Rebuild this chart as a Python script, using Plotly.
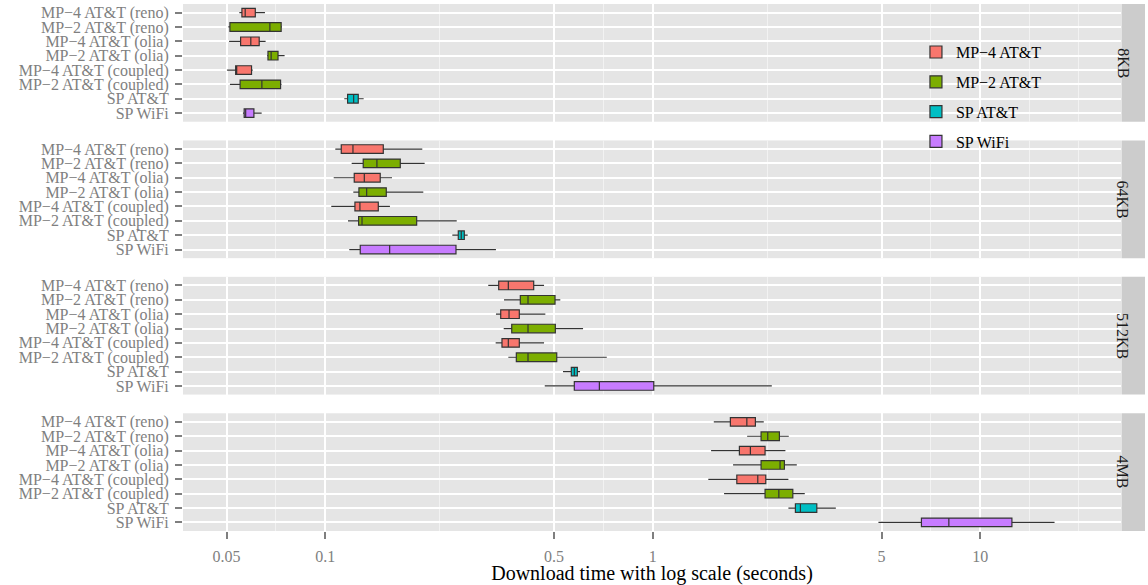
import plotly.graph_objects as go
from plotly.subplots import make_subplots

facets = ["8KB", "64KB", "512KB", "4MB"]
categories = ["MP−4 AT&T (reno)", "MP−2 AT&T (reno)", "MP−4 AT&T (olia)",
              "MP−2 AT&T (olia)", "MP−4 AT&T (coupled)", "MP−2 AT&T (coupled)",
              "SP AT&T", "SP WiFi"]
groups = ["MP−4 AT&T", "MP−2 AT&T", "MP−4 AT&T", "MP−2 AT&T",
          "MP−4 AT&T", "MP−2 AT&T", "SP AT&T", "SP WiFi"]
legend_order = ["MP−4 AT&T", "MP−2 AT&T", "SP AT&T", "SP WiFi"]
group_colors = ["#F8766D", "#7CAE00", "#00BFC4", "#C77CFF"]

x_tickvals = [0.05, 0.1, 0.5, 1, 5, 10]
x_ticktext = ["0.05", "0.1", "0.5", "1", "5", "10"]
x_minorvals = [0.0707, 0.2236, 0.7071, 2.236, 7.071, 14.14, 20]

# 8KB
lo_8kb = [0.0547, 0.0506, 0.0509, 0.0665, 0.0502, 0.0512, 0.1144, 0.0561]
q1_8kb = [0.0557, 0.0512, 0.0552, 0.0669, 0.0533, 0.0550, 0.1171, 0.0566]
med_8kb = [0.0570, 0.0678, 0.0593, 0.0684, 0.0537, 0.0641, 0.1222, 0.0572]
q3_8kb = [0.0612, 0.0734, 0.0629, 0.0718, 0.0596, 0.0731, 0.1262, 0.0606]
hi_8kb = [0.0655, 0.0738, 0.0658, 0.0752, 0.0601, 0.0736, 0.1311, 0.0640]
# 64KB
lo_64kb = [0.1074, 0.1205, 0.1062, 0.1219, 0.1044, 0.1174, 0.2445, 0.1185]
q1_64kb = [0.1120, 0.1307, 0.1227, 0.1268, 0.1233, 0.1265, 0.2550, 0.1280]
med_64kb = [0.1216, 0.1439, 0.1317, 0.1339, 0.1277, 0.1296, 0.2604, 0.1574]
q3_64kb = [0.1505, 0.1696, 0.1473, 0.1537, 0.1453, 0.1903, 0.2660, 0.2509]
hi_64kb = [0.1980, 0.2013, 0.1600, 0.1994, 0.1577, 0.2522, 0.2724, 0.3323]
# 512KB
lo_512kb = [0.3148, 0.3517, 0.3323, 0.3509, 0.3316, 0.3625, 0.5325, 0.4683]
q1_512kb = [0.3388, 0.3944, 0.3436, 0.3713, 0.3467, 0.3835, 0.5645, 0.5765]
med_512kb = [0.3625, 0.4163, 0.3643, 0.4163, 0.3625, 0.4163, 0.5765, 0.6875]
q3_512kb = [0.4333, 0.5034, 0.3916, 0.5045, 0.3916, 0.5095, 0.5889, 1.0078]
hi_512kb = [0.4660, 0.5225, 0.4703, 0.6130, 0.4660, 0.7243, 0.6002, 2.311]
# 4MB
lo_4mb = [1.537, 1.943, 1.508, 1.760, 1.479, 1.652, 2.597, 4.891]
q1_4mb = [1.727, 2.143, 1.840, 2.143, 1.807, 2.204, 2.728, 6.617]
med_4mb = [1.939, 2.246, 1.988, 2.449, 2.094, 2.428, 2.826, 8.023]
q3_4mb = [2.059, 2.438, 2.204, 2.525, 2.215, 2.679, 3.171, 12.50]
hi_4mb = [2.184, 2.604, 2.543, 2.755, 2.597, 2.914, 3.625, 16.87]

facet_stats = [
    (lo_8kb, q1_8kb, med_8kb, q3_8kb, hi_8kb),
    (lo_64kb, q1_64kb, med_64kb, q3_64kb, hi_64kb),
    (lo_512kb, q1_512kb, med_512kb, q3_512kb, hi_512kb),
    (lo_4mb, q1_4mb, med_4mb, q3_4mb, hi_4mb),
]

FONT = "Liberation Serif"
W, H = 1148, 585
ML, MR, MT, MB = 183, 27, 4, 54
plot_h = H - MT - MB
gap_px = 18.7

fig = make_subplots(rows=4, cols=1, shared_xaxes=True,
                    vertical_spacing=gap_px / plot_h)

for r, (lo, q1, med, q3, hi) in enumerate(facet_stats):
    for g, col in zip(legend_order, group_colors):
        idx = [i for i, gg in enumerate(groups) if gg == g]
        fig.add_trace(go.Box(
            y=[categories[i] for i in idx],
            lowerfence=[lo[i] for i in idx],
            q1=[q1[i] for i in idx],
            median=[med[i] for i in idx],
            q3=[q3[i] for i in idx],
            upperfence=[hi[i] for i in idx],
            orientation="h",
            name=g, legendgroup=g, showlegend=(r == 0),
            fillcolor=col,
            line=dict(color="#333333", width=1.2),
            width=0.6, whiskerwidth=0,
            boxpoints=False,
        ), row=r + 1, col=1)

for r in range(4):
    last = (r == 3)
    fig.update_xaxes(
        type="log", range=[-1.434, 1.430],
        tickmode="array", tickvals=x_tickvals, ticktext=x_ticktext,
        showgrid=True, gridcolor="white", gridwidth=2,
        minor=dict(tickmode="array", tickvals=x_minorvals, showgrid=True,
                   gridcolor="#F2F2F2", gridwidth=1, ticks=""),
        zeroline=False, showline=False,
        ticks="outside" if last else "", ticklen=7, tickwidth=2,
        tickcolor="#7F7F7F",
        showticklabels=last,
        ticklabelstandoff=4,
        tickfont=dict(family=FONT, size=16, color="#7F7F7F"),
        row=r + 1, col=1)
    fig.update_yaxes(
        type="category", categoryorder="array", categoryarray=categories,
        tickmode="array", tickvals=categories, ticktext=categories,
        range=[7.6, -0.6],
        showgrid=True, gridcolor="white", gridwidth=2,
        zeroline=False, showline=False,
        ticks="outside", ticklen=7, tickwidth=2, tickcolor="#7F7F7F",
        tickfont=dict(family=FONT, size=16, color="#7F7F7F"),
        ticklabelstandoff=3,
        row=r + 1, col=1)

fig.update_xaxes(title=dict(text="Download time with log scale (seconds)",
                            font=dict(family=FONT, size=20, color="black"),
                            standoff=0),
                 row=4, col=1)

# facet strips
plot_w = W - ML - MR
sx0 = 1.0005
sx1 = (1145 - ML) / plot_w
for r, lab in enumerate(facets):
    yname = "y" if r == 0 else f"y{r + 1}"
    fig.add_shape(type="rect", xref="paper", yref=f"{yname} domain",
                  x0=sx0, x1=sx1, y0=0, y1=1,
                  fillcolor="#CCCCCC", line=dict(width=0), layer="below")
    fig.add_annotation(text=lab, xref="paper", yref=f"{yname} domain",
                       x=(sx0 + sx1) / 2, y=0.5, showarrow=False,
                       textangle=90,
                       font=dict(family=FONT, size=16, color="#1A1A1A"))

fig.update_layout(
    width=W, height=H,
    margin=dict(l=ML, r=MR, t=MT, b=MB, autoexpand=False),
    paper_bgcolor="white", plot_bgcolor="#E5E5E5",
    font=dict(family=FONT, size=16, color="black"),
    boxmode="overlay",
    legend=dict(x=0.7814, y=0.941, xanchor="left", yanchor="top",
                bgcolor="rgba(0,0,0,0)", tracegroupgap=6,
                font=dict(family=FONT, size=16, color="black")),
    showlegend=True,
)

fig.write_html("out.html",
               config={"displayModeBar": False},
               post_script="document.body.style.margin='0';"
                           "document.body.style.overflow='hidden';")
